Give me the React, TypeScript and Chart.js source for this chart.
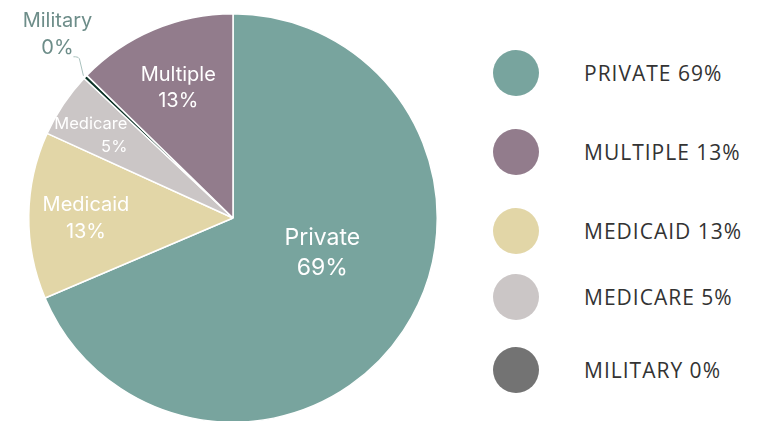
import React, { useEffect, useRef } from "react";
import { Chart, registerables } from "chart.js";

Chart.register(...registerables);

const categories = ["Private", "Medicaid", "Medicare", "Military", "Multiple"];
const values = [68.6, 13.2, 5.2, 0.3, 12.7];
const sliceColors = ["#78a49e", "#e2d6a7", "#cbc6c6", "#0c3327", "#927c8c"];

const legendOrder = ["Private", "Multiple", "Medicaid", "Medicare", "Military"];
const legendColors = ["#78a49e", "#927c8c", "#e2d6a7", "#cbc6c6", "#737373"];

const total = values.reduce((a, b) => a + b, 0);
const pct = (v: number) => Math.round((v / total) * 100);

// label styling per slice (layout, not data)
const labelStyle: Record<string, any> = {
  Private: { r: 0.47, dAngle: -12, size: 23, lh: 30, align: "center" },
  Medicaid: { r: 0.72, dAngle: -1, size: 20, lh: 27, align: "center" },
  Medicare: { r: 0.655, dAngle: 4, size: 16.5, lh: 23, align: "right" },
  Multiple: { r: 0.69, dAngle: 0, size: 20, lh: 26, align: "center" },
};
const legendTops = [73, 152, 231, 297, 370];

const sliceLabelPlugin = {
  id: "sliceLabels",
  afterDatasetsDraw(chart: any) {
    const ctx = chart.ctx;
    const meta = chart.getDatasetMeta(0);
    meta.data.forEach((arc: any, i: number) => {
      const name = categories[i];
      const p = arc.getProps(["x", "y", "startAngle", "endAngle", "outerRadius"], true);
      const mid = (p.startAngle + p.endAngle) / 2;
      const text2 = pct(values[i]) + "%";
      ctx.save();
      if (name === "Military") {
        const ox = p.x + Math.cos(mid) * p.outerRadius;
        const oy = p.y + Math.sin(mid) * p.outerRadius;
        ctx.strokeStyle = "#a9c1bd";
        ctx.lineWidth = 1;
        ctx.beginPath();
        ctx.moveTo(ox - 2, oy - 1);
        ctx.lineTo(ox - 6, oy - 18);
        ctx.quadraticCurveTo(ox - 7, oy - 20, ox - 10, oy - 20);
        ctx.lineTo(ox - 12, oy - 20);
        ctx.stroke();
        ctx.fillStyle = "#6d8d89";
        ctx.font = "20px Inter, 'Noto Sans', sans-serif";
        ctx.textAlign = "center";
        ctx.textBaseline = "middle";
        const lx = ox - 28;
        ctx.fillText(name, lx, oy - 56);
        ctx.fillText(text2, lx, oy - 29);
      } else {
        const st = labelStyle[name];
        const a = mid + (st.dAngle * Math.PI) / 180;
        const cx = p.x + Math.cos(a) * p.outerRadius * st.r;
        const cy = p.y + Math.sin(a) * p.outerRadius * st.r;
        ctx.fillStyle = "#ffffff";
        ctx.font = st.size + "px Inter, 'Noto Sans', sans-serif";
        ctx.textAlign = st.align;
        ctx.textBaseline = "middle";
        ctx.fillText(name, cx, cy - st.lh / 2);
        ctx.fillText(text2, cx, cy + st.lh / 2);
      }
      ctx.restore();
    });
  },
};

export default function App() {
  const ref = useRef<HTMLCanvasElement | null>(null);
  useEffect(() => {
    if (!ref.current) return;
    const chart = new Chart(ref.current, {
      type: "pie",
      data: {
        labels: categories,
        datasets: [
          {
            data: values,
            backgroundColor: sliceColors,
            borderColor: "#ffffff",
            borderWidth: 1.5,
            hoverOffset: 0,
          },
        ],
      },
      options: {
        responsive: false,
        animation: false,
        layout: { padding: { left: 28, right: 28, top: 13, bottom: 13 } },
        plugins: { legend: { display: false }, tooltip: { enabled: false } },
      },
      plugins: [sliceLabelPlugin],
    });
    return () => chart.destroy();
  }, []);

  return (
    <div
      style={{
        position: "fixed",
        left: 0,
        top: 0,
        width: 758,
        height: 421,
        overflow: "hidden",
        background: "#ffffff",
      }}
    >
      <canvas
        ref={ref}
        width={466}
        height={436}
        style={{ position: "absolute", left: 0, top: 0, width: 466, height: 436 }}
      />
      {legendOrder.map((name, i) => {
        const v = values[categories.indexOf(name)];
        return (
          <div
            key={name}
            style={{
              position: "absolute",
              left: 493,
              top: legendTops[i] - 23,
              height: 46,
              display: "flex",
              alignItems: "center",
            }}
          >
            <div
              style={{
                width: 46,
                height: 46,
                borderRadius: "50%",
                background: legendColors[i],
              }}
            />
            <div
              style={{
                marginLeft: 45,
                fontFamily: "'Open Sans', Lato, sans-serif",
                fontSize: 21,
                letterSpacing: 1,
                color: "#333333",
                whiteSpace: "nowrap",
              }}
            >
              {name.toUpperCase()} {pct(v)}%
            </div>
          </div>
        );
      })}
    </div>
  );
}
